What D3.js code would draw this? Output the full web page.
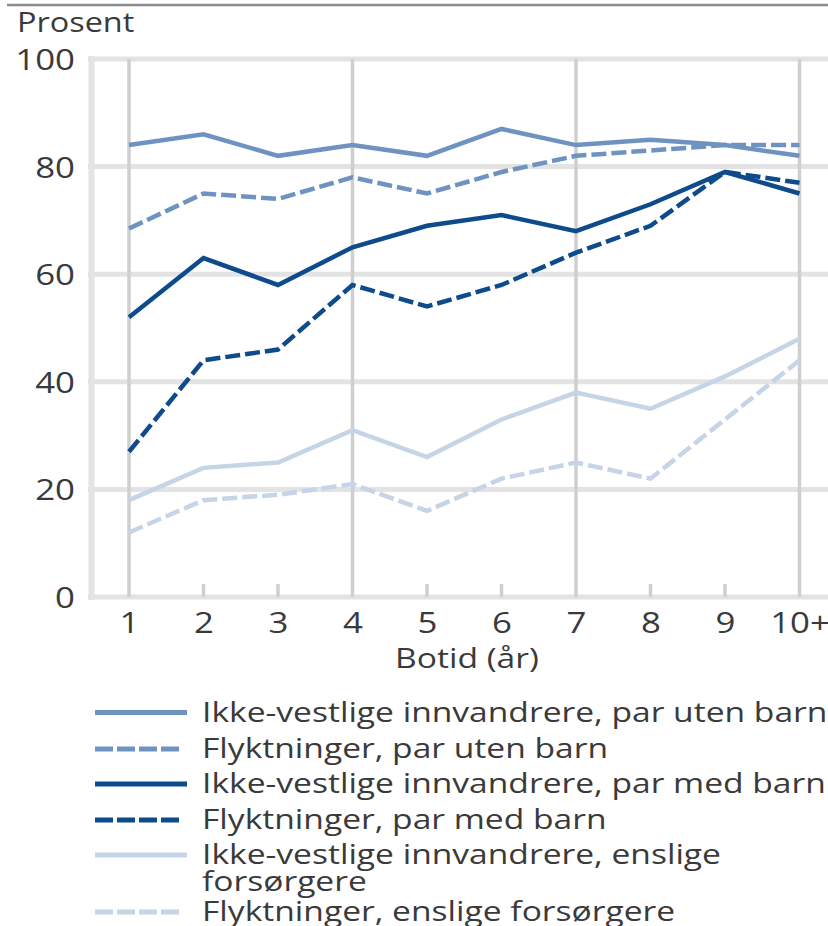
<!DOCTYPE html>
<html>
<head>
<meta charset="utf-8">
<script src="https://cdn.jsdelivr.net/npm/d3@7"></script>
<style>
  body { margin: 0; background: #fff; }
  svg text { font-family: "Open Sans", sans-serif; fill: #3a3a3a; }
</style>
</head>
<body>
<div id="chart"></div>
<script>
// Botid categories (x axis)
var years = ["1", "2", "3", "4", "5", "6", "7", "8", "9", "10+"];

// Series values, prosent
var ikkeVestParUten = [84, 86, 82, 84, 82, 87, 84, 85, 84, 82];
var flyktParUten    = [68.5, 75, 74, 78, 75, 79, 82, 83, 84, 84];
var ikkeVestParMed  = [52, 63, 58, 65, 69, 71, 68, 73, 79, 75];
var flyktParMed     = [27, 44, 46, 58, 54, 58, 64, 69, 79, 77];
var ikkeVestEnslige = [18, 24, 25, 31, 26, 33, 38, 35, 41, 48];
var flyktEnslige    = [12, 18, 19, 21, 16, 22, 25, 22, 33, 44];

var seriesNames = [
    ["Ikke-vestlige innvandrere, par uten barn"],
    ["Flyktninger, par uten barn"],
    ["Ikke-vestlige innvandrere, par med barn"],
    ["Flyktninger, par med barn"],
    ["Ikke-vestlige innvandrere, enslige", "forsørgere"],
    ["Flyktninger, enslige forsørgere"]
];
var yTicks = [0, 20, 40, 60, 80, 100];

var seriesValues = [ikkeVestParUten, flyktParUten, ikkeVestParMed, flyktParMed, ikkeVestEnslige, flyktEnslige];
var seriesColors = ["#6f93c1", "#6f93c1", "#0d4b8c", "#0d4b8c", "#c6d4e7", "#c6d4e7"];
var seriesDashed = [false, true, false, true, false, true];

var width = 828;
var height = 926;
var stretch = "scale(1.2,1)"; // the source font is wider than Open Sans

var svg = d3.select("#chart").append("svg")
    .attr("width", width)
    .attr("height", height);

var x = d3.scalePoint()
    .domain(years)
    .range([129, 799.5]);

var y = d3.scaleLinear()
    .domain([0, 100])
    .range([597, 59]);

// top rule
svg.append("line")
    .attr("x1", 7).attr("x2", width)
    .attr("y1", 5).attr("y2", 5)
    .style("stroke", "#8c8c8c")
    .style("stroke-width", 2.5);

// y title
svg.append("text")
    .attr("transform", "translate(17,32) " + stretch)
    .style("font-size", "27px")
    .text("Prosent");

// horizontal grid
svg.append("g").selectAll("line")
    .data(yTicks)
    .enter().append("line")
    .attr("x1", 88).attr("x2", width)
    .attr("y1", function(d) { return y(d); })
    .attr("y2", function(d) { return y(d); })
    .style("stroke", "#e3e3e3")
    .style("stroke-width", 5);

// left axis bar
svg.append("line")
    .attr("x1", 91.5).attr("x2", 91.5)
    .attr("y1", y(100) - 3).attr("y2", y(0) + 3)
    .style("stroke", "#e4e4e4")
    .style("stroke-width", 6);

// vertical grid every third year, short ticks for the rest
svg.append("g").selectAll("line")
    .data(years)
    .enter().append("line")
    .attr("x1", function(d) { return x(d); })
    .attr("x2", function(d) { return x(d); })
    .attr("y1", function(d, i) { return i % 3 == 0 ? y(100) : y(0) - 13; })
    .attr("y2", y(0))
    .style("stroke", "#cfcfcf")
    .style("stroke-width", 3.5);

// y labels
var yAxis = svg.append("g")
    .attr("transform", "translate(75,0)")
    .call(d3.axisLeft(y).tickValues(yTicks).tickSize(0).tickPadding(0));
yAxis.select(".domain").remove();
yAxis.selectAll("text")
    .style("font-size", "29px")
    .style("font-family", null)
    .attr("dy", "0.36em")
    .attr("transform", stretch);

// x labels
var xAxis = svg.append("g")
    .attr("transform", "translate(0," + 611 + ")")
    .call(d3.axisBottom(x).tickSize(0).tickPadding(0));
xAxis.select(".domain").remove();
xAxis.selectAll("text")
    .style("font-size", "29px")
    .style("font-family", null)
    .attr("dy", "0.76em")
    .attr("transform", stretch);

svg.append("text")
    .attr("transform", "translate(467,668) " + stretch)
    .attr("text-anchor", "middle")
    .style("font-size", "28px")
    .text("Botid (år)");

// lines
var line = d3.line()
    .x(function(d, i) { return x(years[i]); })
    .y(function(d) { return y(d); });

svg.append("g").selectAll("path")
    .data(seriesValues)
    .enter().append("path")
    .attr("d", line)
    .style("fill", "none")
    .style("stroke", function(d, i) { return seriesColors[i]; })
    .style("stroke-width", 4.5)
    .style("stroke-linejoin", "miter")
    .style("stroke-dasharray", function(d, i) { return seriesDashed[i] ? "15,5" : null; });

// legend
var legendY = [712.5, 749, 784, 820, 855, 912];
var legend = svg.append("g").selectAll("g")
    .data(seriesNames)
    .enter().append("g")
    .attr("transform", function(d, i) { return "translate(0," + legendY[i] + ")"; });

legend.append("line")
    .attr("x1", 95)
    .attr("x2", function(d, i) { return seriesDashed[i] ? 179 : 187; })
    .attr("y1", 0).attr("y2", 0)
    .style("stroke", function(d, i) { return seriesColors[i]; })
    .style("stroke-width", 5)
    .style("stroke-dasharray", function(d, i) { return seriesDashed[i] ? "18,4" : null; });

legend.append("text")
    .attr("transform", "translate(202,9) " + stretch)
    .style("font-size", "28px")
    .selectAll("tspan")
    .data(function(d) { return d; })
    .enter().append("tspan")
    .attr("x", 0)
    .attr("dy", function(d, i) { return i ? 27 : 0; })
    .text(function(d) { return d; });
</script>
</body>
</html>
